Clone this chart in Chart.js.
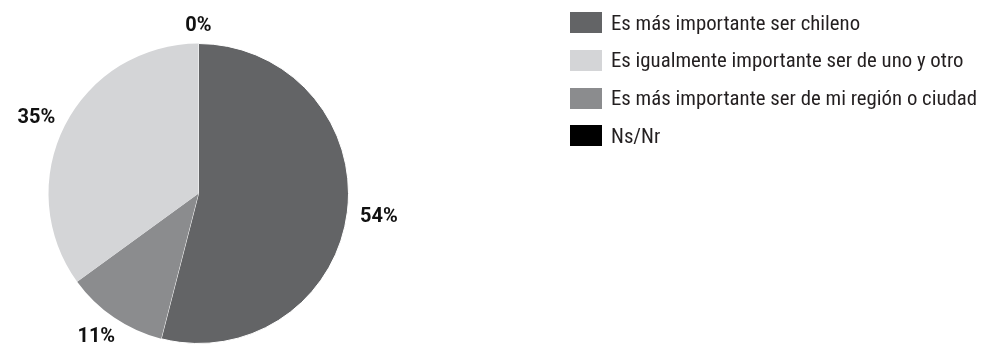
<!DOCTYPE html>
<html>
<head>
<meta charset="utf-8">
<script src="https://cdn.jsdelivr.net/npm/chart.js@4/dist/chart.umd.min.js"></script>
<style>
  html, body { margin: 0; padding: 0; background: #fff; }
  #wrap { position: relative; width: 982px; height: 352px; }
  #chart { position: absolute; left: 0; top: 0; }
  #legend { position: absolute; left: 570px; top: 12px; margin: 0; padding: 0; list-style: none;
            font-family: "Roboto Condensed", "Liberation Sans Narrow", "DejaVu Sans Condensed", Roboto, sans-serif;
            font-size: 20.8px; color: #231f20; }
  #legend li { display: flex; align-items: center; height: 21px; margin-bottom: 16.8px; white-space: nowrap; }
  #legend .box { width: 32px; height: 21px; margin-right: 9px; flex: none; }
</style>
</head>
<body>
<div id="wrap">
  <canvas id="chart" width="982" height="352"></canvas>
  <ul id="legend"></ul>
</div>
<script>
// slices in drawing order (clockwise from the top)
const sliceLabels = [
  'Es más importante ser chileno',
  'Es más importante ser de mi región o ciudad',
  'Es igualmente importante ser de uno y otro',
  'Ns/Nr'
];
const sliceValues = [54, 11, 35, 0];
const sliceColors = ['#636466', '#8b8c8e', '#d4d5d7', '#000000'];
// order the legend lists them in
const legendOrder = [0, 2, 1, 3];

const labelFont = 'bold 20px Roboto, "Liberation Sans", sans-serif';

// Draws "NN%" just outside each slice, along its middle angle.
const outsideLabels = {
  id: 'outsideLabels',
  afterDatasetsDraw: (chart) => {
    const { ctx } = chart;
    const meta = chart.getDatasetMeta(0);
    ctx.save();
    ctx.font = labelFont;
    ctx.fillStyle = '#111';
    ctx.textAlign = 'center';
    ctx.textBaseline = 'alphabetic';
    meta.data.forEach((arc, i) => {
      const { x, y, startAngle, endAngle, outerRadius } = arc.getProps(['x', 'y', 'startAngle', 'endAngle', 'outerRadius'], true);
      const mid = (startAngle + endAngle) / 2;
      const dx = Math.cos(mid), dy = Math.sin(mid);
      const text = sliceValues[i] + '%';
      const w = ctx.measureText(text).width;
      const h = 14.5; // cap height
      const px = x + (outerRadius + 13) * dx;
      const py = y + (outerRadius + 13) * dy;
      ctx.fillText(text, px + dx * w / 2, py + dy * h / 2 + h / 2);
    });
    ctx.restore();
  }
};

new Chart(document.getElementById('chart').getContext('2d'), {
  type: 'pie',
  data: {
    labels: sliceLabels,
    datasets: [{
      data: sliceValues,
      backgroundColor: sliceColors,
      borderColor: ['#ffffff', '#8b8c8e', '#d4d5d7', '#000000'],
      borderWidth: [1, 0, 0, 1]
    }]
  },
  options: {
    responsive: false,
    animation: false,
    layout: { padding: { left: 47, top: 43, right: 632, bottom: 8 } },
    plugins: {
      legend: { display: false },
      tooltip: { enabled: false }
    },
    events: []
  },
  plugins: [outsideLabels]
});

// html legend, same colours and names as the slices
const legendEl = document.getElementById('legend');
legendOrder.forEach((i) => {
  const li = document.createElement('li');
  const box = document.createElement('span');
  box.className = 'box';
  box.style.background = sliceColors[i];
  li.appendChild(box);
  li.appendChild(document.createTextNode(sliceLabels[i]));
  legendEl.appendChild(li);
});
</script>
</body>
</html>
